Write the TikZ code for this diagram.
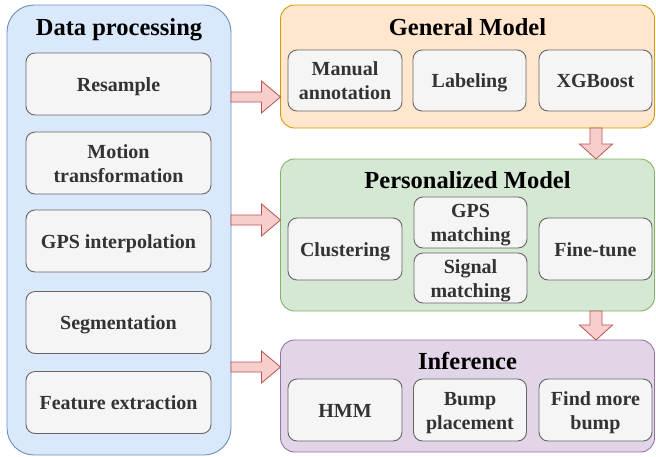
\documentclass[tikz,border=0pt]{standalone}
\usepackage{fontspec}
\setmainfont{Liberation Serif}
\usetikzlibrary{calc}

\definecolor{dpfill}{HTML}{DAE8FC}
\definecolor{dpline}{HTML}{6C8EBF}
\definecolor{gmfill}{HTML}{FFE6CC}
\definecolor{gmline}{HTML}{D79B00}
\definecolor{pmfill}{HTML}{D5E8D4}
\definecolor{pmline}{HTML}{82B366}
\definecolor{iffill}{HTML}{E1D5E7}
\definecolor{ifline}{HTML}{9673A6}
\definecolor{itfill}{HTML}{F5F5F5}
\definecolor{itline}{HTML}{666666}
\definecolor{ittext}{HTML}{333333}
\definecolor{arfill}{HTML}{F8CECC}
\definecolor{arline}{HTML}{B85450}

% line strut so that capitals sit centred in each box
\newcommand\ls{\rule[-5pt]{0pt}{24pt}}

\tikzset{
  group/.style={line width=0.9pt, inner sep=0pt, outer sep=0pt},
  title/.style={font=\bfseries\fontsize{24.5}{29}\selectfont, anchor=base, inner sep=0pt},
  item/.style={draw=itline, fill=itfill, line width=0.9pt, rounded corners=9pt,
    text=ittext, font=\bfseries\fontsize{20}{24}\selectfont, align=center,
    inner sep=0pt, outer sep=0pt},
  blockarrow/.style={draw=arline, fill=arfill, line width=0.8pt, line join=miter},
}

% right-pointing block arrow between two points at the same height
\newcommand\rightblock[2]{%
  \draw[blockarrow] ($(#1)+(0,-5)$) -- ($(#2)+(-19,-5)$) -- ($(#2)+(-19,-16)$) -- (#2)
    -- ($(#2)+(-19,16)$) -- ($(#2)+(-19,5)$) -- ($(#1)+(0,5)$) -- cycle;}
% downward block arrow between two points on the same vertical
\newcommand\downblock[2]{%
  \draw[blockarrow] ($(#1)+(-6,0)$) -- ($(#2)+(-6,-15)$) -- ($(#2)+(-16.5,-15)$) -- (#2)
    -- ($(#2)+(16.5,-15)$) -- ($(#2)+(6,-15)$) -- ($(#1)+(6,0)$) -- cycle;}

\begin{document}
\begin{tikzpicture}[x=1pt, y=-1pt]
\useasboundingbox (0,0) rectangle (656,456);

% ---- group containers ----
\node[group, draw=dpline, fill=dpfill, rounded corners=27pt, minimum width=224pt, minimum height=450pt] (dp) at (119,230) {};
\node[group, draw=gmline, fill=gmfill, rounded corners=14pt, minimum width=374pt, minimum height=123pt] (gm) at (467.5,66.5) {};
\node[group, draw=pmline, fill=pmfill, rounded corners=14pt, minimum width=374pt, minimum height=152pt] (pm) at (467.5,235) {};
\node[group, draw=ifline, fill=iffill, rounded corners=14pt, minimum width=374pt, minimum height=112pt] (inf) at (467.5,396) {};

% ---- titles ----
\node[title] (tdp) at (119,35) {Data processing};
\node[title] (tgm) at (467.5,35) {General Model};
\node[title] (tpm) at (467.5,188) {Personalized Model};
\node[title] (tif) at (467.5,369) {Inference};

% ---- data processing steps ----
\node[item, minimum width=185pt, minimum height=62pt] (rs) at (118.5,84) {\ls Resample};
\node[item, minimum width=185pt, minimum height=62pt] (mt) at (118.5,163) {\ls Motion\\\ls transformation};
\node[item, minimum width=185pt, minimum height=62pt] (gi) at (118.5,241) {\ls GPS interpolation};
\node[item, minimum width=185pt, minimum height=62pt] (sg) at (118.5,322.5) {\ls Segmentation};
\node[item, minimum width=185pt, minimum height=62pt] (fe) at (118.5,402.5) {\ls Feature extraction};

% ---- general model ----
\node[item, minimum width=114pt, minimum height=61pt] (ma) at (345,80.5) {\ls Manual\\\ls annotation};
\node[item, minimum width=113pt, minimum height=61pt] (lb) at (469.5,80.5) {\ls Labeling};
\node[item, minimum width=113pt, minimum height=61pt] (xg) at (595.5,80.5) {\ls XGBoost};

% ---- personalized model ----
\node[item, minimum width=114pt, minimum height=62pt] (cl) at (345,249) {\ls Clustering};
\node[item, minimum width=113pt, minimum height=51pt] (gm2) at (470.5,222.5) {\ls GPS\\\ls matching};
\node[item, minimum width=113pt, minimum height=50pt] (sm) at (470.5,278) {\ls Signal\\\ls matching};
\node[item, minimum width=113pt, minimum height=62pt] (ft) at (595.5,249) {\ls Fine-tune};

% ---- inference ----
\node[item, minimum width=114pt, minimum height=62pt] (hmm) at (345,410) {\ls HMM};
\node[item, minimum width=113pt, minimum height=62pt] (bp) at (470,410) {\ls Bump\\\ls placement};
\node[item, minimum width=113pt, minimum height=62pt] (fm) at (595.5,410) {\ls Find more\\\ls bump};

% ---- flow arrows ----
\coordinate (a1s) at (dp.east |- 0,97);
\coordinate (a1e) at (gm.west |- 0,97);
\coordinate (a2s) at (dp.east |- 0,220);
\coordinate (a2e) at (pm.west |- 0,220);
\coordinate (a3s) at (dp.east |- 0,367);
\coordinate (a3e) at (inf.west |- 0,367);
\coordinate (d1s) at (gm.south -| 596,0);
\coordinate (d1e) at (pm.north -| 596,0);
\coordinate (d2s) at (pm.south -| 596,0);
\coordinate (d2e) at (inf.north -| 596,0);

\rightblock{a1s}{a1e}
\rightblock{a2s}{a2e}
\rightblock{a3s}{a3e}
\downblock{d1s}{d1e}
\downblock{d2s}{d2e}
\end{tikzpicture}
\end{document}
